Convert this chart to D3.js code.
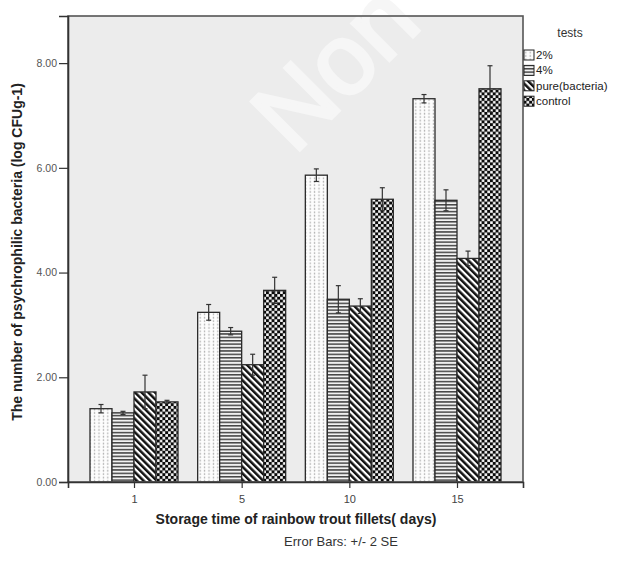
<!DOCTYPE html>
<html>
<head>
<meta charset="utf-8">
<script src="https://cdn.jsdelivr.net/npm/d3@7"></script>
<style>
  html, body { margin: 0; padding: 0; background: #fff; }
  svg { display: block; }
  text { font-family: Arial, "Liberation Sans", sans-serif; }
</style>
</head>
<body>
<svg id="chart" width="619" height="565"></svg>
<script>
// ---- data ----
const days = ["1", "5", "10", "15"];
const tests = ["2%", "4%", "pure(bacteria)", "control"];
const mean2 = [1.40, 3.24, 5.86, 7.32];
const mean4 = [1.32, 2.88, 3.49, 5.38];
const meanPure = [1.72, 2.24, 3.36, 4.27];
const meanControl = [1.53, 3.66, 5.40, 7.51];
const err2 = [0.08, 0.15, 0.12, 0.08];
const err4 = [0.03, 0.07, 0.26, 0.20];
const errPure = [0.32, 0.20, 0.14, 0.14];
const errControl = [0.03, 0.25, 0.22, 0.44];
const yTicks = [0, 2, 4, 6, 8];

const means = [mean2, mean4, meanPure, meanControl];
const errs = [err2, err4, errPure, errControl];
const rows = [];
tests.forEach((t, si) => days.forEach((d, di) => rows.push({test: t, day: d, si, v: means[si][di], e: errs[si][di]})));

// ---- layout ----
const svg = d3.select("#chart");
const L = 68, R = 523, T = 16, B = 482;

const x = d3.scalePoint().domain(days).range([L, R]).padding(0.613);
const sub = d3.scaleBand().domain(tests).range([-44, 44]).padding(0);
const y = d3.scaleLinear().domain([0, 8.9]).range([B, T]);

// ---- patterns ----
const defs = svg.append("defs");
const pDots = defs.append("pattern").attr("id", "p0").attr("patternUnits", "userSpaceOnUse").attr("width", 4.4).attr("height", 3.4);
pDots.append("rect").attr("width", 4.4).attr("height", 3.4).attr("fill", "#fdfdfd");
pDots.append("rect").attr("x", 1.6).attr("y", 0.6).attr("width", 1.2).attr("height", 1.8).attr("fill", "#b0b0b0");

const pH = defs.append("pattern").attr("id", "p1").attr("patternUnits", "userSpaceOnUse").attr("width", 4).attr("height", 3.4);
pH.append("rect").attr("width", 4).attr("height", 3.4).attr("fill", "#f2f2f2");
pH.append("rect").attr("y", 0).attr("width", 4).attr("height", 1.5).attr("fill", "#444");

const pD = defs.append("pattern").attr("id", "p2").attr("patternUnits", "userSpaceOnUse").attr("width", 4.7).attr("height", 4.7).attr("patternTransform", "rotate(-45)");
pD.append("rect").attr("width", 4.7).attr("height", 4.7).attr("fill", "#fff");
pD.append("rect").attr("width", 2.5).attr("height", 4.7).attr("fill", "#111");

const pC = defs.append("pattern").attr("id", "p3").attr("patternUnits", "userSpaceOnUse").attr("width", 5.6).attr("height", 5.6);
pC.append("rect").attr("width", 5.6).attr("height", 5.6).attr("fill", "#0a0a0a");
pC.append("rect").attr("x", 0.15).attr("y", 0.15).attr("width", 2.6).attr("height", 2.6).attr("fill", "#fff");
pC.append("rect").attr("x", 2.95).attr("y", 2.95).attr("width", 2.6).attr("height", 2.6).attr("fill", "#fff");

const fills = ["url(#p0)", "url(#p1)", "url(#p2)", "url(#p3)"];

// ---- plot background ----
svg.append("rect").attr("x", L).attr("y", T).attr("width", R - L).attr("height", B - T)
  .attr("fill", "#ececec");

// watermark (faint)
svg.append("text")
  .attr("transform", "translate(294,156) rotate(-45)")
  .attr("font-size", 100).attr("fill", "#f6f6f6")
  .attr("stroke", "#f6f6f6").attr("stroke-width", 3)
  .text("Non");

// ---- bars ----
const bars = svg.append("g");
bars.selectAll("rect").data(rows).join("rect")
  .attr("x", d => x(d.day) + sub(d.test))
  .attr("y", d => y(d.v))
  .attr("width", sub.bandwidth())
  .attr("height", d => y(0) - y(d.v))
  .attr("fill", d => fills[d.si])
  .attr("stroke", "#2a2a2a").attr("stroke-width", 1.3);

// ---- error bars ----
const eb = svg.append("g").attr("stroke", "#333").attr("stroke-width", 1.2);
rows.forEach(d => {
  const cx = x(d.day) + sub(d.test) + sub.bandwidth() / 2;
  const y1 = y(d.v + d.e), y2 = y(d.v - d.e);
  eb.append("line").attr("x1", cx).attr("x2", cx).attr("y1", y1).attr("y2", y2);
  eb.append("line").attr("x1", cx - 2.5).attr("x2", cx + 2.5).attr("y1", y1).attr("y2", y1);
  eb.append("line").attr("x1", cx - 2.5).attr("x2", cx + 2.5).attr("y1", y2).attr("y2", y2);
});

// ---- frame ----
svg.append("rect").attr("x", L).attr("y", T).attr("width", R - L).attr("height", B - T)
  .attr("fill", "none").attr("stroke", "#555").attr("stroke-width", 1.6);

// ---- axes ----
const yAxis = d3.axisLeft(y).tickValues(yTicks).tickFormat(d3.format(".2f")).tickSize(9).tickPadding(2);
const gy = svg.append("g").attr("transform", `translate(${L},0)`).call(yAxis);
gy.select(".domain").attr("stroke", "#333").attr("stroke-width", 1.6);
gy.selectAll(".tick line").attr("stroke", "#333").attr("stroke-width", 1.2);
gy.selectAll(".tick text").attr("font-size", 10.5).attr("fill", "#555").attr("font-family", "Arial, 'Liberation Sans', sans-serif");

const xAxis = d3.axisBottom(x).tickSize(6).tickPadding(7);
const gx = svg.append("g").attr("transform", `translate(0,${B})`).call(xAxis);
gx.select(".domain").attr("stroke", "#333").attr("stroke-width", 1.6);
gx.selectAll(".tick line").attr("stroke", "#333").attr("stroke-width", 1.2);
gx.selectAll(".tick text").attr("font-size", 11).attr("fill", "#444").attr("font-family", "Arial, 'Liberation Sans', sans-serif");

// ---- titles ----
svg.append("text").attr("transform", "translate(22,252) rotate(-90)")
  .attr("text-anchor", "middle").attr("font-size", 14).attr("font-weight", "bold").attr("fill", "#222")
  .text("The number of psychrophilic bacteria (log CFUg-1)");
svg.append("text").attr("x", 296).attr("y", 524)
  .attr("text-anchor", "middle").attr("font-size", 14).attr("font-weight", "bold").attr("fill", "#222")
  .text("Storage time of rainbow trout fillets( days)");
svg.append("text").attr("x", 341).attr("y", 546)
  .attr("text-anchor", "middle").attr("font-size", 13).attr("fill", "#333")
  .text("Error Bars: +/- 2 SE");

// ---- legend ----
const lg = svg.append("g");
lg.append("text").attr("x", 570).attr("y", 37).attr("text-anchor", "middle")
  .attr("font-size", 12).attr("fill", "#333").text("tests");
tests.forEach((t, i) => {
  const cy = 55 + i * 15.4;
  lg.append("rect").attr("x", 524).attr("y", cy - 5).attr("width", 10).attr("height", 10)
    .attr("fill", fills[i]).attr("stroke", "#222").attr("stroke-width", 1);
  lg.append("text").attr("x", 536).attr("y", cy + 4).attr("font-size", 11.5).attr("fill", "#222").text(t);
});
</script>
</body>
</html>
